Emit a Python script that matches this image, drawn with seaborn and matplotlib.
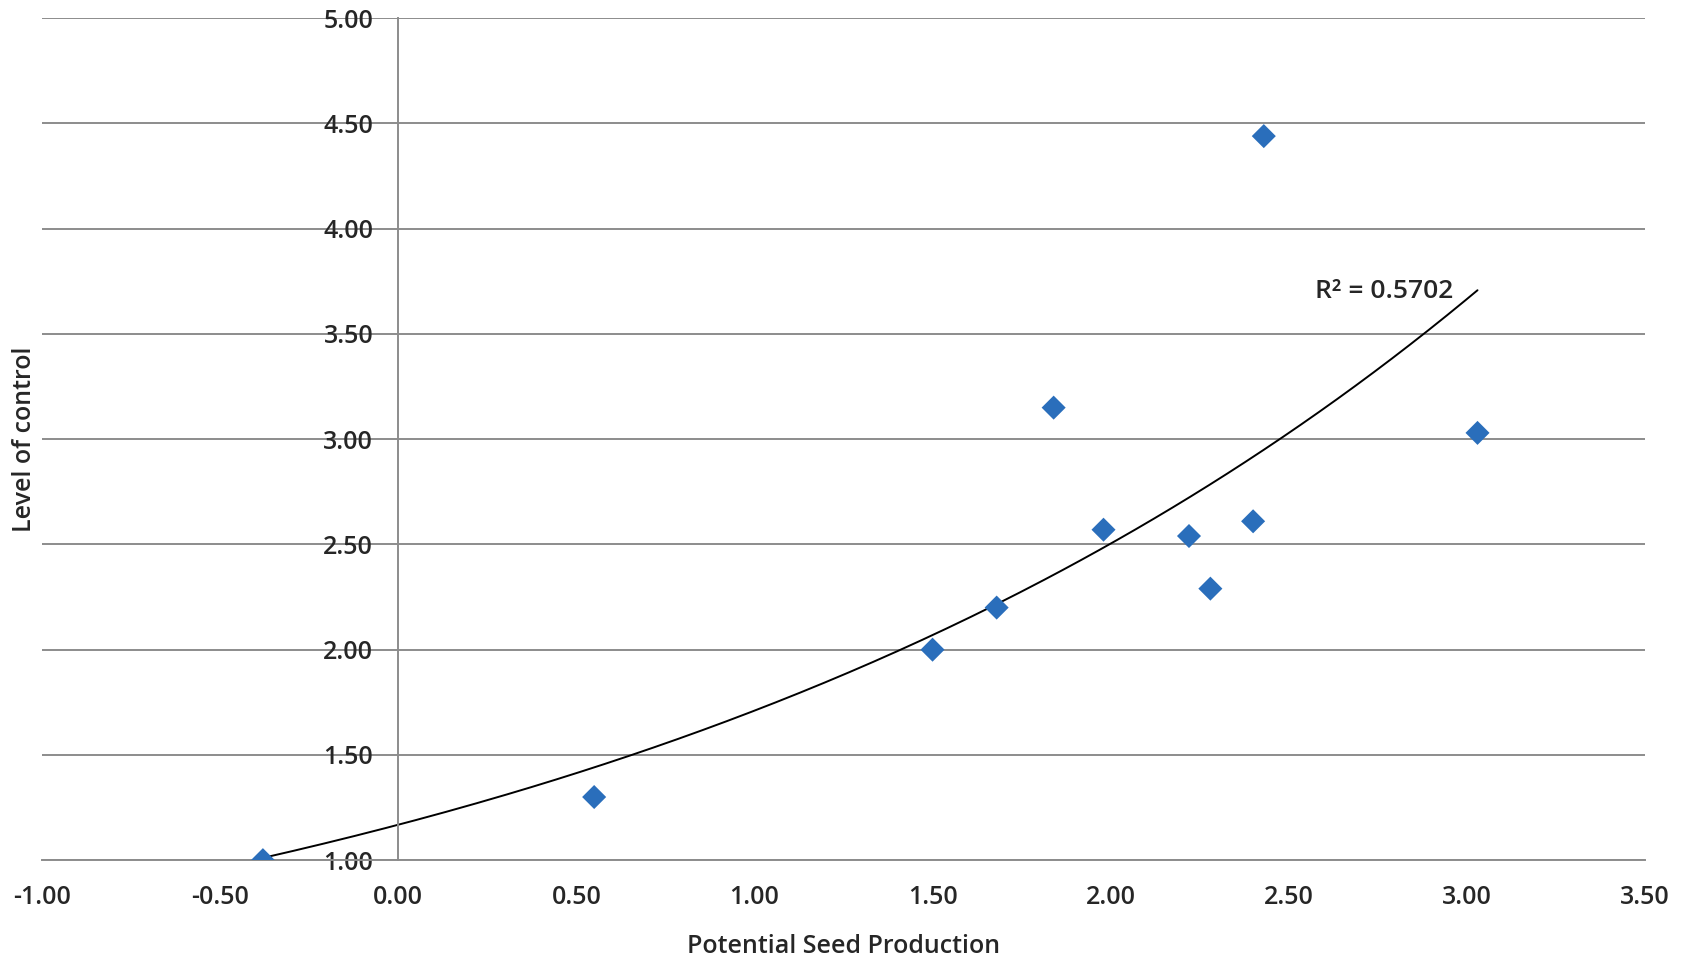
import numpy as np
import pandas as pd
import matplotlib
matplotlib.use("Agg")
import matplotlib.pyplot as plt
import seaborn as sns

# values
seed_production = [-0.38, 0.55, 1.50, 1.68, 1.84, 1.98, 2.22, 2.28, 2.40, 2.43, 3.03]
level_of_control = [1.00, 1.30, 2.00, 2.20, 3.15, 2.57, 2.54, 2.29, 2.61, 4.44, 3.03]
r2_label = "R² = 0.5702"
x_ticks = [-1.0, -0.5, 0.0, 0.5, 1.0, 1.5, 2.0, 2.5, 3.0, 3.5]
y_ticks = [1.0, 1.5, 2.0, 2.5, 3.0, 3.5, 4.0, 4.5, 5.0]

df = pd.DataFrame({"x": seed_production, "y": level_of_control})

sns.set_style("white")
plt.rcParams["font.family"] = ["Open Sans", "DejaVu Sans"]

fig = plt.figure(figsize=(16.89, 9.6), dpi=100)
ax = fig.add_axes([0.0249, 0.104, 0.949, 0.877])

grid_col = "#8c8c8c"
fs = 18

# exponential trendline (Excel style: fit on ln y)
b, ln_a = np.polyfit(df["x"], np.log(df["y"]), 1)
xs = np.linspace(df["x"].min(), df["x"].max(), 200)
trend = pd.DataFrame({"x": xs, "y": np.exp(ln_a) * np.exp(b * xs)})

for yv in y_ticks:
    ax.axhline(yv, color=grid_col, lw=1.4, zorder=0)

sns.lineplot(data=trend, x="x", y="y", ax=ax, color="black", lw=1.4, zorder=2)
sns.scatterplot(data=df, x="x", y="y", ax=ax, marker="D", s=150,
                color="#2a6ebb", edgecolor="none", zorder=3)

ax.text(2.575, 3.70, r2_label, fontsize=19, fontweight="semibold",
        va="center", ha="left")

ax.set_xlim(-1.0, 3.5)
ax.set_ylim(1.0, 5.0)
ax.set_xticks(x_ticks)
ax.set_yticks(y_ticks)
ax.set_xticklabels([f"{v:.2f}" for v in x_ticks])
ax.set_yticklabels([f"{v:.2f}" for v in y_ticks])

ax.spines["left"].set_position(("data", 0))
ax.spines["right"].set_visible(False)
ax.spines["top"].set_visible(False)
for s in ["left", "bottom"]:
    ax.spines[s].set_color(grid_col)
    ax.spines[s].set_linewidth(1.4)

ax.tick_params(axis="x", direction="out", length=9, width=1.4, color=grid_col,
               labelsize=fs, pad=9)
ax.tick_params(axis="y", direction="out", length=6, width=1.4, color=grid_col,
               labelsize=fs, pad=12)
for lbl in ax.get_xticklabels() + ax.get_yticklabels():
    lbl.set_fontweight("semibold")

ax.set_xlabel("Potential Seed Production", fontsize=fs, fontweight="semibold")
ax.set_ylabel("Level of control", fontsize=fs, fontweight="semibold")
ax.xaxis.set_label_coords(0.5, -0.088)
ax.yaxis.set_label_coords(-0.003, 0.5)

fig.savefig("out.png", dpi=100, facecolor="white")
